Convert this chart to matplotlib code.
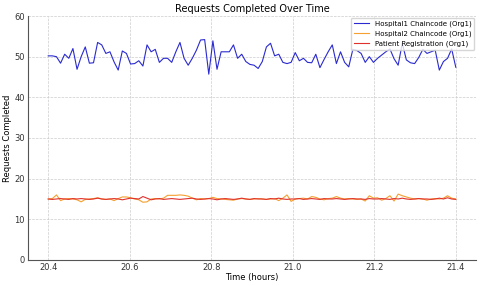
import numpy as np
import matplotlib
matplotlib.use("Agg")
import matplotlib.pyplot as plt

# values (one sample every ~0.01 h)
hospital1 = [50.2, 50.2, 50.0, 48.4, 50.6, 49.6, 52.0, 46.9, 50.0, 52.4,
             48.4, 48.5, 53.5, 52.9, 50.8, 51.2, 48.7, 46.7, 51.4, 50.8,
             48.2, 48.3, 49.0, 47.7, 52.9, 51.2, 51.8, 48.6, 49.6, 49.6,
             48.6, 51.2, 53.5, 49.6, 47.9, 49.6, 51.6, 54.1, 54.2, 45.7,
             53.9, 46.9, 51.2, 51.2, 51.2, 52.9, 49.6, 50.6, 48.8, 48.1,
             47.9, 47.1, 48.8, 52.4, 53.3, 50.2, 50.6, 48.6, 48.3, 48.6,
             51.0, 49.0, 49.6, 48.6, 48.5, 50.6, 47.3, 49.3, 51.2, 52.9,
             48.3, 51.2, 48.6, 47.5, 51.8, 51.5, 50.8, 48.6, 50.0, 48.6,
             49.6, 50.4, 51.2, 51.9, 49.5, 47.9, 53.3, 49.2, 48.5, 48.3,
             49.8, 51.8, 50.8, 51.2, 51.6, 46.7, 48.8, 49.6, 51.9, 47.4]

hospital2 = [15.0, 15.1, 16.0, 14.6, 15.0, 15.1, 15.0, 14.8, 14.3, 14.9,
             15.0, 15.1, 15.3, 15.0, 14.9, 15.0, 14.6, 15.1, 15.5, 15.5,
             15.3, 15.0, 14.8, 14.2, 14.3, 15.0, 15.1, 15.0, 15.2, 15.9,
             15.9, 15.9, 16.0, 15.9, 15.7, 15.2, 14.8, 15.1, 15.0, 15.1,
             15.4, 15.1, 15.0, 14.9, 14.8, 14.7, 15.0, 15.1, 15.0, 14.9,
             15.0, 15.1, 15.0, 14.9, 15.0, 15.1, 14.6, 15.2, 16.0, 14.4,
             15.0, 15.1, 15.2, 15.0, 15.6, 15.4, 15.0, 14.8, 15.1, 15.2,
             15.6, 15.2, 15.0, 15.1, 15.0, 14.9, 15.0, 14.5, 15.8, 15.2,
             15.3, 14.7, 15.1, 15.8, 14.5, 16.2, 15.8, 15.5, 15.2, 15.0,
             15.1, 15.0, 14.7, 15.0, 15.1, 15.0, 15.2, 15.8, 15.2, 15.0]

patient_reg = [15.0, 14.9, 15.0, 15.1, 15.0, 14.9, 15.1, 15.0, 15.1, 15.0,
               14.9, 15.0, 15.2, 15.0, 14.9, 15.0, 15.1, 15.0, 14.8, 15.0,
               15.2, 15.1, 15.0, 15.6, 15.2, 14.8, 15.0, 15.1, 14.9, 15.0,
               15.1, 15.0, 14.9, 15.0, 15.1, 15.2, 15.0, 14.9, 15.0, 15.1,
               15.0, 14.8, 15.0, 15.1, 15.0, 14.9, 15.0, 15.2, 15.0, 14.9,
               15.1, 15.0, 15.0, 14.9, 15.1, 15.0, 15.2, 15.0, 14.9, 15.0,
               15.0, 15.1, 14.9, 15.0, 15.1, 15.0, 14.9, 15.1, 15.0, 15.0,
               15.1, 15.0, 14.9, 15.0, 15.1, 15.0, 15.0, 14.9, 15.1, 15.0,
               15.0, 15.1, 15.0, 14.9, 15.1, 15.0, 15.2, 15.0, 14.9, 15.0,
               15.1, 15.0, 15.0, 14.9, 15.0, 15.2, 15.0, 15.3, 15.0, 14.9]

hours = np.linspace(20.4, 21.4, len(hospital1))

fig = plt.figure(figsize=(4.8, 2.86), dpi=100)
ax = fig.add_axes([0.058, 0.091, 0.934, 0.853])

ax.plot(hours, hospital1, color='#2a2ad0', lw=0.8, label='Hospital1 Chaincode (Org1)')
ax.plot(hours, hospital2, color='#f5a030', lw=0.8, label='Hospital2 Chaincode (Org1)')
ax.plot(hours, patient_reg, color='#e0302c', lw=0.8, label='Patient Registration (Org1)')

ax.set_xlim(20.35, 21.45)
ax.set_ylim(0, 60)
ax.set_xticks([20.4, 20.6, 20.8, 21.0, 21.2, 21.4])
ax.set_yticks(range(0, 61, 10))

ax.set_title('Requests Completed Over Time', fontsize=7, pad=3)
ax.set_xlabel('Time (hours)', fontsize=6, labelpad=1)
ax.set_ylabel('Requests Completed', fontsize=6, labelpad=2)

ax.grid(True, linestyle='--', color='#cccccc', linewidth=0.5)
for side in ['top', 'right']:
    ax.spines[side].set_visible(False)
for side in ['left', 'bottom']:
    ax.spines[side].set_color('#555555')
    ax.spines[side].set_linewidth(0.8)
ax.tick_params(labelsize=6, length=0, pad=2, colors='#333333')

ax.legend(loc='upper right', fontsize=5, frameon=True, framealpha=0.8,
          edgecolor='#cccccc', borderaxespad=0.3, handlelength=2.2)

fig.savefig('out.png', dpi=100)
